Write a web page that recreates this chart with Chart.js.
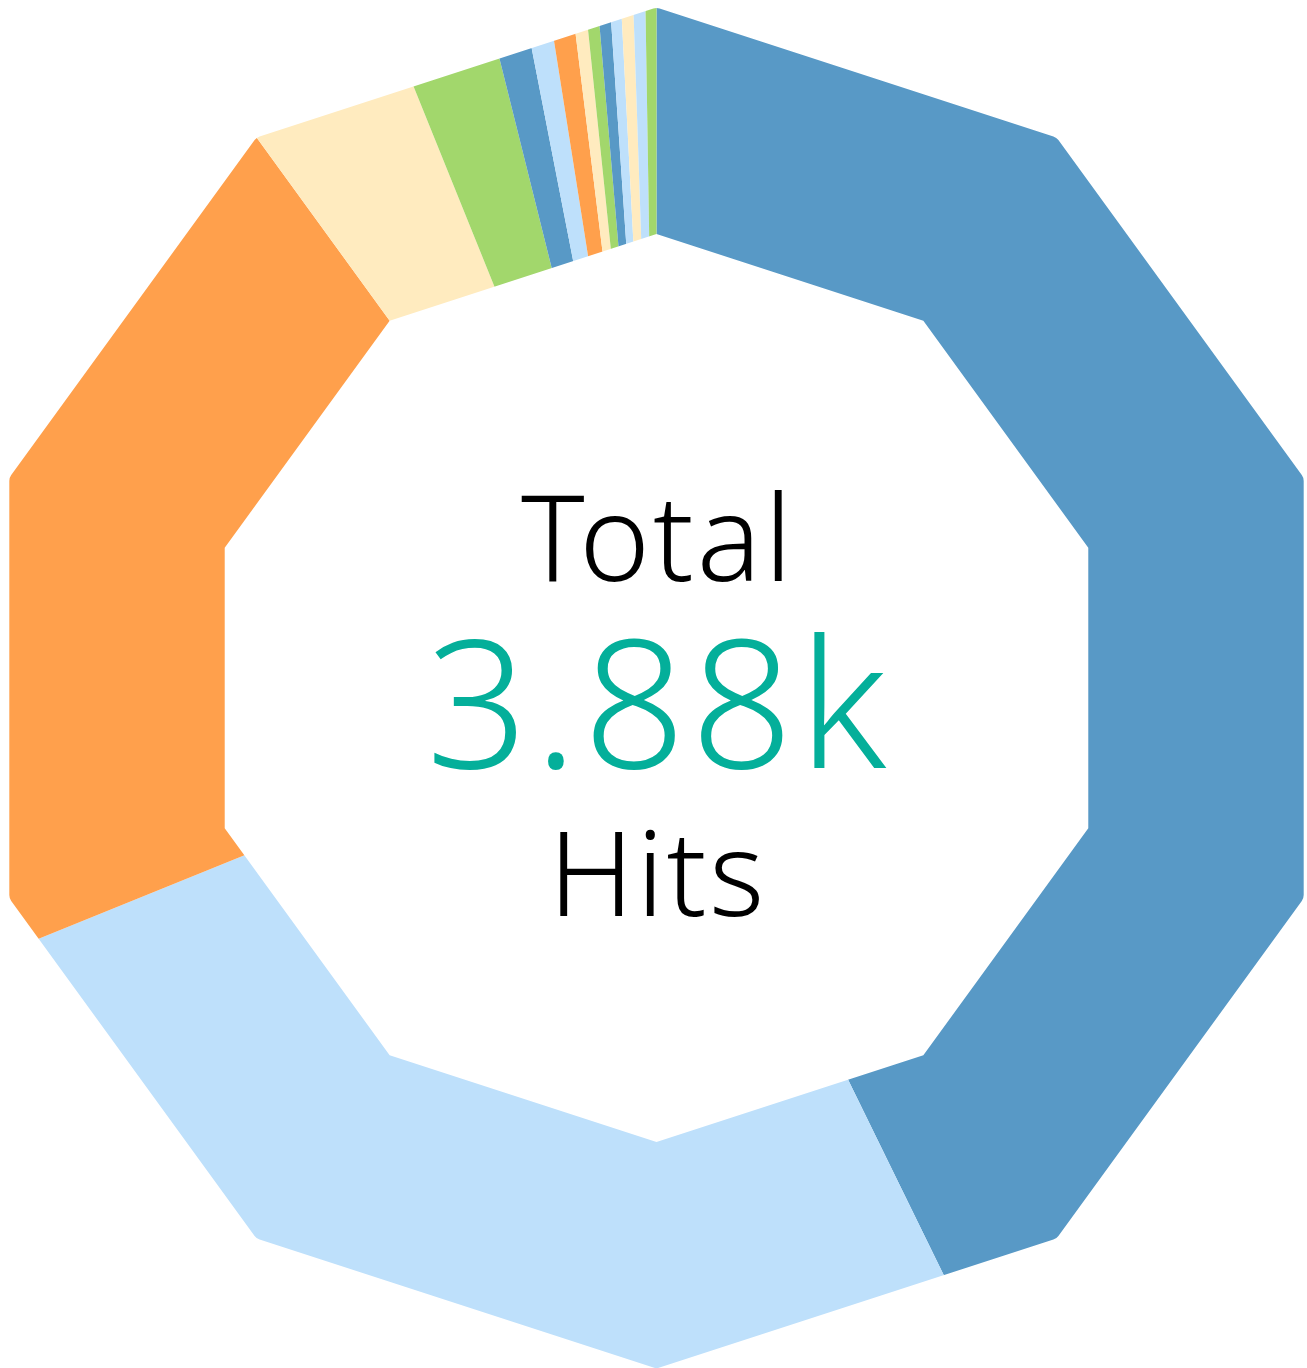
<!DOCTYPE html>
<html>
<head>
<meta charset="utf-8">
<script src="https://cdn.jsdelivr.net/npm/chart.js@4/dist/chart.umd.min.js"></script>
<style>
    html, body { margin: 0; padding: 0; background: #fff; }
    #wrap { position: relative; width: 1307px; height: 1368px; }
    .center-text {
        position: absolute;
        left: 0;
        width: 1313px;
        text-align: center;
        font-family: "Noto Sans", sans-serif;
        font-weight: 300;
        line-height: 1;
        white-space: nowrap;
        box-sizing: border-box;
    }
</style>
</head>
<body>
<div id="wrap">
    <canvas id="hits-chart" width="1307" height="1368"></canvas>
    <div class="center-text" id="title" style="top:475px;font-size:120px;color:#000;letter-spacing:3px;padding-left:3px;">Total</div>
    <div class="center-text" id="value" style="top:610px;font-size:178px;color:#04af9a;letter-spacing:6px;padding-left:6px;">3.88k</div>
    <div class="center-text" id="unit" style="top:812px;font-size:118px;color:#000;letter-spacing:2.5px;padding-left:2.5px;">Hits</div>
</div>
<script>
const labels = ['Source 1', 'Source 2', 'Source 3', 'Source 4', 'Source 5', 'Source 6', 'Source 7', 'Source 8',
    'Source 9', 'Source 10', 'Source 11', 'Source 12', 'Source 13', 'Source 14', 'Source 15'];
const hits = [1659, 1013, 820, 151, 86, 32, 22, 21, 12, 11, 11, 10, 11, 11, 10];

const blue = '#5899c6';
const lightBlue = '#bee0fb';
const orange = '#ffa04c';
const cream = '#ffebbf';
const green = '#a2d76c';
const sliceColors = [blue, lightBlue, orange, cream, green, blue, lightBlue, orange, cream, green,
    blue, lightBlue, cream, lightBlue, green];

// clip the round doughnut into a ten-sided ring
const decagonClip = {
    id: 'decagonClip',
    beforeDatasetsDraw(chart) {
        const arc = chart.getDatasetMeta(0).data[0];
        if (!arc) return;
        const ctx = chart.ctx;
        const cx = arc.x, cy = arc.y;
        const outerR = 680.5, innerR = 454, corner = 10;

        const pts = r => {
            let out = [];
            for (let i = 0; i < 10; i++) {
                let a = i * Math.PI / 5;
                out.push([cx + r * Math.sin(a), cy - r * Math.cos(a)]);
            }
            return out;
        };

        ctx.save();
        ctx.beginPath();
        let o = pts(outerR);
        ctx.moveTo((o[9][0] + o[0][0]) / 2, (o[9][1] + o[0][1]) / 2);
        for (let i = 0; i < 10; i++) {
            let p = o[i], n = o[(i + 1) % 10];
            ctx.arcTo(p[0], p[1], n[0], n[1], corner);
        }
        ctx.closePath();
        let inn = pts(innerR);
        ctx.moveTo(inn[0][0], inn[0][1]);
        for (let i = 1; i < 10; i++) ctx.lineTo(inn[i][0], inn[i][1]);
        ctx.closePath();
        ctx.clip('evenodd');
    },
    afterDatasetsDraw(chart) {
        chart.ctx.restore();
    }
};

new Chart(document.getElementById('hits-chart').getContext('2d'), {
    type: 'doughnut',
    data: {
        labels: labels,
        datasets: [{
            data: hits,
            backgroundColor: sliceColors,
            borderWidth: 0,
            hoverOffset: 0
        }]
    },
    options: {
        responsive: false,
        animation: false,
        radius: 690,
        cutout: '55%',
        layout: {
            padding: { left: 6, right: 0, top: 8, bottom: 0 }
        },
        plugins: {
            legend: { display: false },
            tooltip: { enabled: false }
        },
        events: []
    },
    plugins: [decagonClip]
});
</script>
</body>
</html>
